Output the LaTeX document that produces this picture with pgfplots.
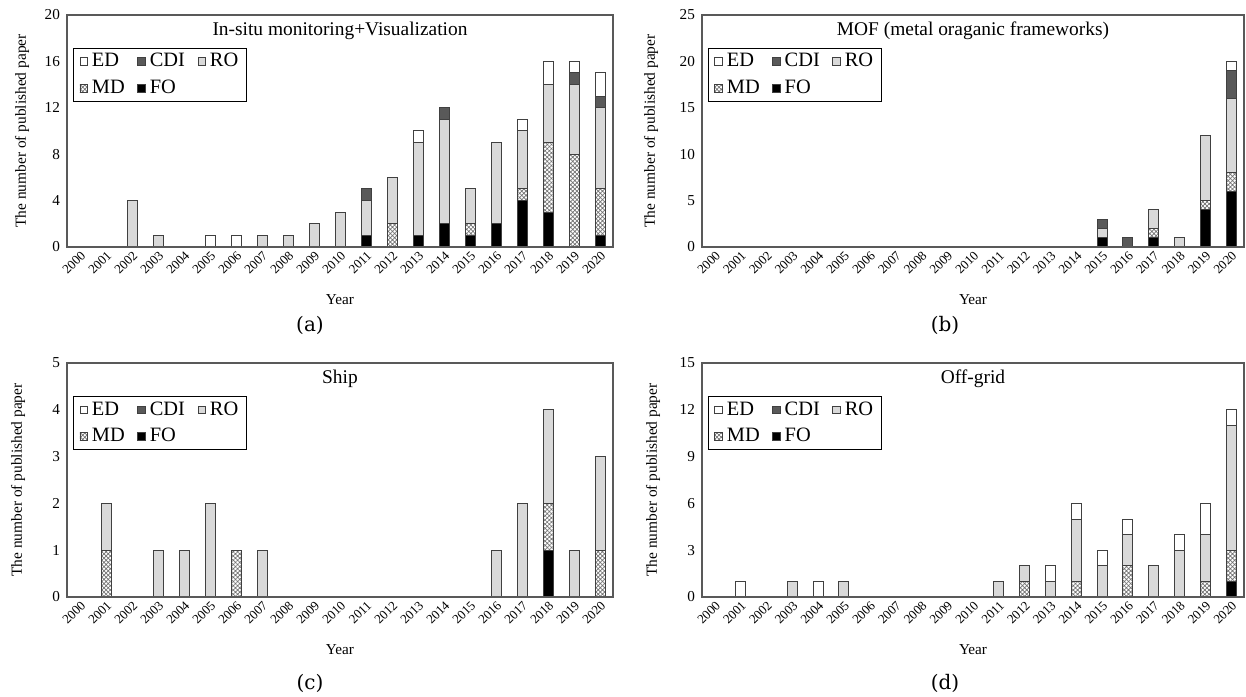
\documentclass[border=0pt]{standalone}
\usepackage{fontspec}
\setmainfont{Liberation Serif}
\newfontfamily\capfont{DejaVu Serif}
\usepackage{pgfplots}
\usepackage{pgfplotstable}
\pgfplotsset{compat=1.18}
\usetikzlibrary{patterns,patterns.meta}

\definecolor{edgec}{HTML}{404040}
\definecolor{rogray}{HTML}{D9D9D9}
\definecolor{cdigray}{HTML}{595959}
\definecolor{framec}{HTML}{595959}

% x FO MD RO CDI ED
\pgfplotstableread{
x FO MD RO CDI ED
0 0 0 0 0 0
1 0 0 0 0 0
2 0 0 4 0 0
3 0 0 1 0 0
4 0 0 0 0 0
5 0 0 0 0 1
6 0 0 0 0 1
7 0 0 1 0 0
8 0 0 1 0 0
9 0 0 2 0 0
10 0 0 3 0 0
11 1 0 3 1 0
12 0 2 4 0 0
13 1 0 8 0 1
14 2 0 9 1 0
15 1 1 3 0 0
16 2 0 7 0 0
17 4 1 5 0 1
18 3 6 5 0 2
19 0 8 6 1 1
20 1 4 7 1 2
}\dataa

\pgfplotstableread{
x FO MD RO CDI ED
0 0 0 0 0 0
1 0 0 0 0 0
2 0 0 0 0 0
3 0 0 0 0 0
4 0 0 0 0 0
5 0 0 0 0 0
6 0 0 0 0 0
7 0 0 0 0 0
8 0 0 0 0 0
9 0 0 0 0 0
10 0 0 0 0 0
11 0 0 0 0 0
12 0 0 0 0 0
13 0 0 0 0 0
14 0 0 0 0 0
15 1 0 1 1 0
16 0 0 0 1 0
17 1 1 2 0 0
18 0 0 1 0 0
19 4 1 7 0 0
20 6 2 8 3 1
}\datab

\pgfplotstableread{
x FO MD RO CDI ED
0 0 0 0 0 0
1 0 1 1 0 0
2 0 0 0 0 0
3 0 0 1 0 0
4 0 0 1 0 0
5 0 0 2 0 0
6 0 1 0 0 0
7 0 0 1 0 0
8 0 0 0 0 0
9 0 0 0 0 0
10 0 0 0 0 0
11 0 0 0 0 0
12 0 0 0 0 0
13 0 0 0 0 0
14 0 0 0 0 0
15 0 0 0 0 0
16 0 0 1 0 0
17 0 0 2 0 0
18 1 1 2 0 0
19 0 0 1 0 0
20 0 1 2 0 0
}\datac

\pgfplotstableread{
x FO MD RO CDI ED
0 0 0 0 0 0
1 0 0 0 0 1
2 0 0 0 0 0
3 0 0 1 0 0
4 0 0 0 0 1
5 0 0 1 0 0
6 0 0 0 0 0
7 0 0 0 0 0
8 0 0 0 0 0
9 0 0 0 0 0
10 0 0 0 0 0
11 0 0 1 0 0
12 0 1 1 0 0
13 0 0 1 0 1
14 0 1 4 0 1
15 0 0 2 0 1
16 0 2 2 0 1
17 0 0 2 0 0
18 0 0 3 0 1
19 0 1 3 0 2
20 1 2 8 0 1
}\datad

\pgfplotsset{
  panel/.style={
    scale only axis,
    ybar stacked,
    bar width=5pt,
    xmin=-0.5, xmax=20.5, ymin=0,
    axis on top,
    xtick={0,...,20},
    xticklabels={2000,2001,2002,2003,2004,2005,2006,2007,2008,2009,2010,2011,2012,2013,2014,2015,2016,2017,2018,2019,2020},
    x tick label style={rotate=45, anchor=north east, font=\fontsize{6.5}{7}\selectfont, inner sep=1pt},
    y tick label style={font=\fontsize{7.6}{9}\selectfont},
    /pgf/number format/assume math mode=true,
    major tick length=0pt,
    axis line style={draw=framec, line width=0.6pt},
    xlabel={Year},
    ylabel={The number of published paper},
    every axis x label/.style={at={(axis description cs:0.5,0)}, yshift=-26.5pt, anchor=center, font=\fontsize{7.6}{9}\selectfont},
    title style={at={(axis description cs:0.5,1)}, anchor=north, yshift=-6pt, font=\fontsize{9.7}{11}\selectfont},
    reverse legend,
    legend columns=3,
    legend cell align=left,
    legend style={at={(axis description cs:0.011,0.858)}, anchor=north west, draw=black, line width=0.5pt,
      font=\fontsize{10.2}{12}\selectfont, inner xsep=3pt, inner ysep=1pt, row sep=2pt,
      nodes={inner xsep=1pt, inner ysep=1.5pt},
      /tikz/every odd column/.append style={column sep=1pt},
      /tikz/every even column/.append style={column sep=5.3pt}},
    legend image code/.code={\draw[#1, line width=0.4pt] (0pt,-1.9pt) rectangle (3.8pt,1.9pt);},
  },
  ylab/.style={every axis y label/.style={at={(axis description cs:#1,0.5)}, rotate=90, anchor=center, font=\fontsize{7.7}{9}\selectfont}},
  sFO/.style={fill=black, draw=edgec, line width=0.5pt},
  sMD/.style={pattern={Hatch[angle=45,distance=1.5pt,line width=0.35pt]}, pattern color=black!55, draw=edgec, line width=0.5pt},
  sRO/.style={fill=rogray, draw=edgec, line width=0.5pt},
  sCDI/.style={fill=cdigray, draw=edgec, line width=0.5pt},
  sED/.style={fill=white, draw=edgec, line width=0.5pt},
}

\begin{document}
\begin{tikzpicture}
\useasboundingbox (0,0) rectangle (623pt,348pt);

% (a)
\begin{axis}[panel, at={(33.5pt,224.5pt)}, anchor=south west, width=273pt, height=116pt,
  ymax=20, ytick={0,4,...,20}, title={In-situ monitoring+Visualization}, ylab=-0.0824]
\addplot[sFO] table[x=x,y=FO]{\dataa};
\addplot[sMD] table[x=x,y=MD]{\dataa};
\addplot[sRO] table[x=x,y=RO]{\dataa};
\addplot[sCDI] table[x=x,y=CDI]{\dataa};
\addplot[sED] table[x=x,y=ED]{\dataa};
\legend{FO,MD,RO,CDI,ED}
\end{axis}

% (b)
\begin{axis}[panel, at={(351pt,224.5pt)}, anchor=south west, width=271pt, height=116pt,
  ymax=25, ytick={0,5,...,25}, title={MOF (metal oraganic frameworks)}, ylab=-0.0941]
\addplot[sFO] table[x=x,y=FO]{\datab};
\addplot[sMD] table[x=x,y=MD]{\datab};
\addplot[sRO] table[x=x,y=RO]{\datab};
\addplot[sCDI] table[x=x,y=CDI]{\datab};
\addplot[sED] table[x=x,y=ED]{\datab};
\legend{FO,MD,RO,CDI,ED}
\end{axis}

% (c)
\begin{axis}[panel, at={(33.5pt,49.5pt)}, anchor=south west, width=273pt, height=117pt,
  ymax=5, ytick={0,1,...,5}, title={Ship}, ylab=-0.0897]
\addplot[sFO] table[x=x,y=FO]{\datac};
\addplot[sMD] table[x=x,y=MD]{\datac};
\addplot[sRO] table[x=x,y=RO]{\datac};
\addplot[sCDI] table[x=x,y=CDI]{\datac};
\addplot[sED] table[x=x,y=ED]{\datac};
\legend{FO,MD,RO,CDI,ED}
\end{axis}

% (d)
\begin{axis}[panel, at={(351pt,49.5pt)}, anchor=south west, width=271pt, height=117pt,
  ymax=15, ytick={0,3,...,15}, title={Off-grid}, ylab=-0.0904]
\addplot[sFO] table[x=x,y=FO]{\datad};
\addplot[sMD] table[x=x,y=MD]{\datad};
\addplot[sRO] table[x=x,y=RO]{\datad};
\addplot[sCDI] table[x=x,y=CDI]{\datad};
\addplot[sED] table[x=x,y=ED]{\datad};
\legend{FO,MD,RO,CDI,ED}
\end{axis}

\node[font=\capfont\fontsize{10}{12}\selectfont] at (155pt,185.5pt) {(a)};
\node[font=\capfont\fontsize{10}{12}\selectfont] at (472.5pt,185.5pt) {(b)};
\node[font=\capfont\fontsize{10}{12}\selectfont] at (155pt,6.5pt) {(c)};
\node[font=\capfont\fontsize{10}{12}\selectfont] at (472.5pt,6.5pt) {(d)};
\end{tikzpicture}
\end{document}
